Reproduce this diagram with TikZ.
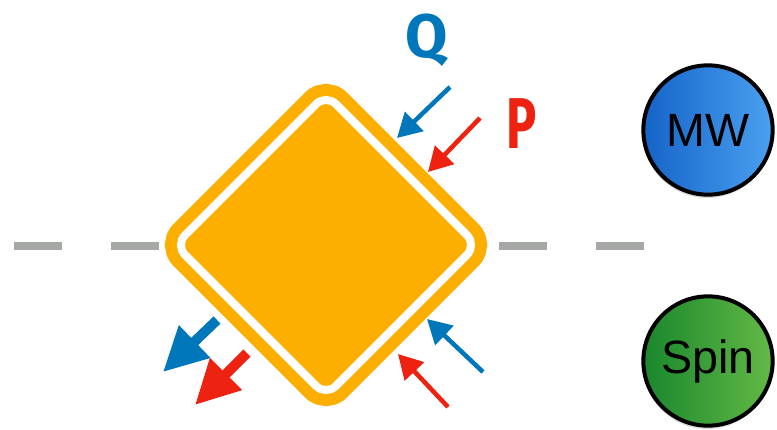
\documentclass[tikz,border=0pt]{standalone}
\usepackage{fontspec}
\setmainfont{Liberation Sans}
\newfontfamily\markfont{Fira Sans}
\usepackage{tikz}
\usetikzlibrary{arrows.meta,shadows}
\definecolor{qblue}{HTML}{0077BB}
\definecolor{pred}{HTML}{EE2211}
\definecolor{boxorange}{HTML}{FCAF00}
\definecolor{cutgray}{HTML}{A6A8A6}
\definecolor{mwleft}{RGB}{20,100,200}
\definecolor{mwright}{RGB}{75,160,240}
\definecolor{spinleft}{RGB}{25,135,45}
\definecolor{spinright}{RGB}{100,185,70}

\begin{document}
\begin{tikzpicture}[x=0.75pt,y=-0.75pt,
  thinarrow/.style={line width=3.4pt,-{Triangle[length=18pt,width=19.5pt]}},
  fatarrow/.style={line width=7.5pt,-{Triangle[length=33pt,width=32pt]}},
  obs/.style={circle,draw=black,line width=3pt,minimum size=97pt,inner sep=0pt,
    font=\fontsize{35}{40}\selectfont,
    drop shadow={shadow xshift=-0.5pt,shadow yshift=-2.5pt,opacity=0.3}},
  marklabel/.style={font=\markfont\bfseries\fontsize{46}{50}\selectfont}]
\useasboundingbox (0,0) rectangle (777,429);
% cut line behind the box
\coordinate (cutL) at (14,246);
\coordinate (cutR) at (644,246);
\draw[cutgray,line width=6pt,dash pattern=on 36pt off 36.75pt] (cutL) -- (cutR);
% the box
\node[rectangle,rotate=45,minimum size=160pt,inner sep=0pt,rounded corners=10.5pt,
  fill=boxorange,draw=boxorange,line width=9pt,double=white,double distance=6pt] (box) at (326,245) {};
% arrow ends
\foreach \nm/\x/\y in {qs/450/87,qe/397/138,ps/480/118,pe/428/172,
  qis/483/372,qie/427/319,pis/448/407,pie/398/354,
  qos/217/320,qoe/163/372,pos/247/353,poe/195/405}
  \coordinate (\nm) at (\x,\y);
\draw[thinarrow,qblue] (qs) -- (qe);
\draw[thinarrow,pred] (ps) -- (pe);
\draw[thinarrow,qblue] (qis) -- (qie);
\draw[thinarrow,pred] (pis) -- (pie);
\draw[fatarrow,qblue] (qos) -- (qoe);
\draw[fatarrow,pred] (pos) -- (poe);
\node[marklabel,text=qblue] (qlab) at (427,40) {Q};
\node[marklabel,text=pred,xscale=0.7,font=\markfont\bfseries\fontsize{54}{58}\selectfont] (plab) at (522,124) {P};
% observables
\node[obs,left color=mwleft,right color=mwright] (mw) at (708,130) {MW};
\node[obs,left color=spinleft,right color=spinright] (spin) at (708,361) {Spin};
\end{tikzpicture}
\end{document}
